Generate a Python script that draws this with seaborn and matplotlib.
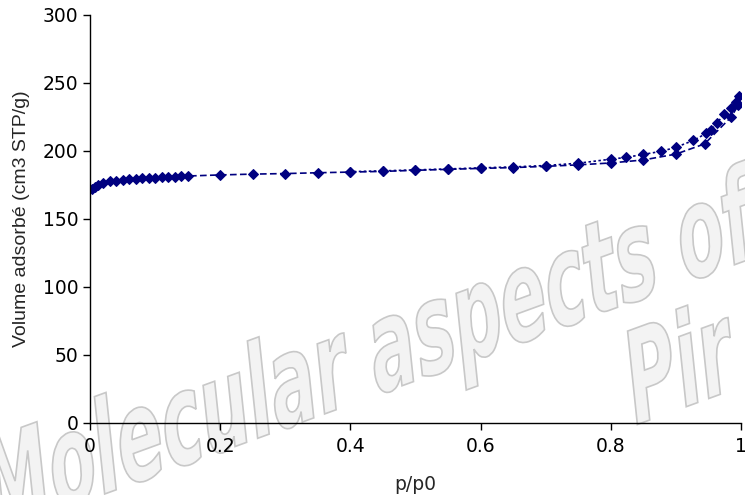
import numpy as np
import matplotlib
matplotlib.use("Agg")
import matplotlib.pyplot as plt
import seaborn as sns
from matplotlib.textpath import TextPath
from matplotlib.patches import PathPatch
from matplotlib.font_manager import FontProperties
from matplotlib.transforms import Affine2D, IdentityTransform

# adsorption branch
ads_p = [0.003, 0.008, 0.013, 0.02, 0.03, 0.04, 0.05, 0.06, 0.07, 0.08, 0.09, 0.10,
         0.11, 0.12, 0.13, 0.14, 0.15, 0.2, 0.25, 0.3, 0.35, 0.4, 0.45, 0.5, 0.55,
         0.6, 0.65, 0.7, 0.75, 0.8, 0.85, 0.9, 0.944, 0.985, 0.996]
ads_v = [172.2, 173.6, 174.8, 176.8, 177.6, 178.2, 178.7, 179.1, 179.5, 179.8, 180.1, 180.4,
         180.7, 181.0, 181.2, 181.4, 181.6, 182.4, 183.0, 183.4, 184.0, 184.5, 185.0, 185.8, 186.5,
         187.2, 187.8, 188.7, 189.8, 191.2, 193.4, 197.7, 205.2, 225.0, 233.8]

# desorption branch
des_p = [0.997, 0.993, 0.984, 0.974, 0.963, 0.954, 0.947, 0.927, 0.9, 0.877, 0.85,
         0.824, 0.8, 0.75, 0.7, 0.65, 0.6, 0.55, 0.5, 0.45, 0.4]
des_v = [240.5, 236.3, 231.5, 227.0, 220.5, 215.3, 213.0, 207.8, 202.7, 199.7, 197.5,
         195.3, 194.0, 191.0, 189.3, 188.3, 187.6, 186.8, 186.1, 185.4, 184.8]

x_ticks = [0, 0.2, 0.4, 0.6, 0.8, 1]
x_ticklabels = ["0", "0.2", "0.4", "0.6", "0.8", "1"]
y_ticks = [0, 50, 100, 150, 200, 250, 300]

sns.set_style("ticks")
plt.rcParams['font.family'] = ['Liberation Sans', 'DejaVu Sans']

fig = plt.figure(figsize=(7.45, 4.95), dpi=100)
ax = fig.add_axes([0.1208, 0.1455, 0.8738, 0.8242])
ax.patch.set_alpha(0)

# watermark behind the chart
wm_font = FontProperties(family='DejaVu Sans', weight='bold', style='italic')
for txt, x0, y0 in [("Molecular aspects of", -8, -40), ("Pir", 636, 70)]:
    tp = TextPath((0, 0), txt, size=100, prop=wm_font)
    tr = Affine2D().scale(0.7, 1.25).skew_deg(8, 0).rotate_deg(20).translate(x0, y0)
    patch = PathPatch(tr.transform_path(tp), facecolor='#f3f3f3', edgecolor='#c8c8c8',
                      lw=1.2, transform=IdentityTransform(), zorder=-1)
    fig.patches.append(patch)

navy = '#000080'
sns.lineplot(x=ads_p, y=ads_v, ax=ax, sort=False, color=navy, marker='D', markersize=5,
             markeredgecolor=navy, linestyle=(0, (4, 2)), linewidth=1.2)
sns.lineplot(x=des_p, y=des_v, ax=ax, sort=False, color=navy, marker='D', markersize=5,
             markeredgecolor=navy, linestyle=(0, (1.5, 1.5)), linewidth=1.2)

ax.set_xlim(0, 1)
ax.set_ylim(0, 300)
ax.set_xticks(x_ticks)
ax.set_xticklabels(x_ticklabels)
ax.set_yticks(y_ticks)
ax.tick_params(axis='both', direction='out', length=5, width=1, labelsize=13.5, colors='black')
ax.tick_params(axis='x', pad=5)
for lab in ax.get_xticklabels() + ax.get_yticklabels():
    lab.set_family('DejaVu Sans')
ax.set_xlabel('p/p0', fontsize=13.5, labelpad=14, family='DejaVu Sans')
ax.set_ylabel('Volume adsorbé (cm3 STP/g)', fontsize=14, labelpad=9)
for s in ['top', 'right']:
    ax.spines[s].set_visible(False)
for s in ['left', 'bottom']:
    ax.spines[s].set_color('black')
    ax.spines[s].set_linewidth(1)

fig.savefig('out.png', dpi=100)
